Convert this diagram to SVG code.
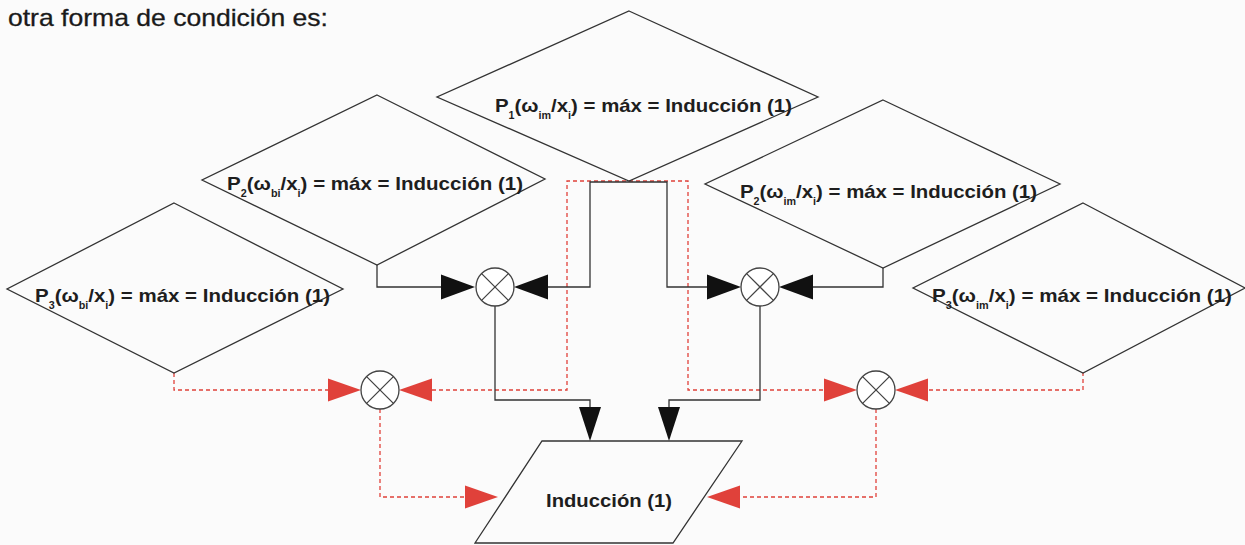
<svg xmlns="http://www.w3.org/2000/svg" xmlns:xlink="http://www.w3.org/1999/xlink" width="1245" height="545" viewBox="0 0 1245 545">
  <style>
    .shape { fill: none; stroke: #333; stroke-width: 1.3; }
    .lbl { font-family: "Liberation Sans", Arial, sans-serif; font-weight: bold; font-size: 19px; fill: #1e1e1e; }
    .sub { font-size: 10px; }
    .title { font-family: "Liberation Sans", Arial, sans-serif; font-size: 24px; fill: #1a1a1a; stroke: #1a1a1a; stroke-width: 0.3; }
    .wire { fill: none; stroke: #333; stroke-width: 1.3; }
    .dash { fill: none; stroke: #e0413a; stroke-width: 1.3; stroke-dasharray: 4 3; }
    .mult { fill: #fff; stroke: #444; stroke-width: 1.3; }
    .head { fill: #111; }
    .rhead { fill: #e0413a; }
  </style>
  <defs>
    <!-- arrowheads drawn with the tip at the origin, pointing along +x -->
    <path id="hw" d="M0,0 L-34,-12.5 L-34,12.5 Z"/>
    <path id="hn" d="M0,0 L-34,-11 L-34,11 Z"/>
    <path id="hr" d="M0,0 L-33,-11.5 L-33,11.5 Z"/>
    <!-- multiplier symbol -->
    <g id="mul">
      <circle r="19" class="mult"/>
      <path d="M-13.4,-13.4 L13.4,13.4 M-13.4,13.4 L13.4,-13.4" stroke="#444" stroke-width="1.3"/>
    </g>
  </defs>

  <rect width="1245" height="545" fill="#fbfbfb"/>

  <text class="title" x="8" y="26" textLength="320" lengthAdjust="spacingAndGlyphs">otra forma de condición es:</text>

  <!-- connectors -->
  <g id="connectors">
    <!-- red dashed paths -->
    <path class="dash" d="M174,373 V390 H328"/>
    <path class="dash" d="M432,390 H567 V181 H688 V390 H824"/>
    <path class="dash" d="M929,390 H1083 V373"/>
    <path class="dash" d="M380,409 V497 H465"/>
    <path class="dash" d="M876,409 V497 H740"/>
    <use xlink:href="#hr" class="rhead" transform="translate(361,390)"/>
    <use xlink:href="#hr" class="rhead" transform="translate(399,390) rotate(180)"/>
    <use xlink:href="#hr" class="rhead" transform="translate(857,390)"/>
    <use xlink:href="#hr" class="rhead" transform="translate(895,390) rotate(180)"/>
    <use xlink:href="#hr" class="rhead" transform="translate(498,497)"/>
    <use xlink:href="#hr" class="rhead" transform="translate(707,497) rotate(180)"/>

    <!-- black signal paths -->
    <path class="wire" d="M377,265 V287 H441"/>
    <path class="wire" d="M547,287 H590 V182 H667 V287 H707"/>
    <path class="wire" d="M883,268 V287 H813"/>
    <path class="wire" d="M495,306 V400 H590 V407"/>
    <path class="wire" d="M760,306 V400 H669 V407"/>
    <use xlink:href="#hw" class="head" transform="translate(475,287)"/>
    <use xlink:href="#hw" class="head" transform="translate(514,287) rotate(180)"/>
    <use xlink:href="#hw" class="head" transform="translate(741,287)"/>
    <use xlink:href="#hw" class="head" transform="translate(779,287) rotate(180)"/>
    <use xlink:href="#hn" class="head" transform="translate(590,441) rotate(90)"/>
    <use xlink:href="#hn" class="head" transform="translate(669,441) rotate(90)"/>
  </g>

  <!-- decision nodes -->
  <g id="p1-im">
    <polygon class="shape" points="629,11 818,97 629,181 437,97"/>
    <text class="lbl" x="495" y="112" textLength="297" lengthAdjust="spacingAndGlyphs">P<tspan class="sub" dy="7">1</tspan><tspan dy="-7">(ω</tspan><tspan class="sub" dy="7">im</tspan><tspan dy="-7">/x</tspan><tspan class="sub" dy="7">i</tspan><tspan dy="-7">) = máx = Inducción (1)</tspan></text>
  </g>
  <g id="p2-bi">
    <polygon class="shape" points="377,95 545,179 377,265 202,180"/>
    <text class="lbl" x="227" y="190" textLength="296" lengthAdjust="spacingAndGlyphs">P<tspan class="sub" dy="7">2</tspan><tspan dy="-7">(ω</tspan><tspan class="sub" dy="7">bi</tspan><tspan dy="-7">/x</tspan><tspan class="sub" dy="7">i</tspan><tspan dy="-7">) = máx = Inducción (1)</tspan></text>
  </g>
  <g id="p2-im">
    <polygon class="shape" points="883,100 1060,184 883,268 705,184"/>
    <text class="lbl" x="740" y="198" textLength="297" lengthAdjust="spacingAndGlyphs">P<tspan class="sub" dy="7">2</tspan><tspan dy="-7">(ω</tspan><tspan class="sub" dy="7">im</tspan><tspan dy="-7">/x</tspan><tspan class="sub" dy="7">i</tspan><tspan dy="-7">) = máx = Inducción (1)</tspan></text>
  </g>
  <g id="p3-bi">
    <polygon class="shape" points="174,203 343,289 174,373 7,289"/>
    <text class="lbl" x="35" y="302" textLength="295" lengthAdjust="spacingAndGlyphs">P<tspan class="sub" dy="7">3</tspan><tspan dy="-7">(ω</tspan><tspan class="sub" dy="7">bi</tspan><tspan dy="-7">/x</tspan><tspan class="sub" dy="7">i</tspan><tspan dy="-7">) = máx = Inducción (1)</tspan></text>
  </g>
  <g id="p3-im">
    <polygon class="shape" points="1083,203 1245,288 1083,373 913,288"/>
    <text class="lbl" x="932" y="302" textLength="300" lengthAdjust="spacingAndGlyphs">P<tspan class="sub" dy="7">3</tspan><tspan dy="-7">(ω</tspan><tspan class="sub" dy="7">im</tspan><tspan dy="-7">/x</tspan><tspan class="sub" dy="7">i</tspan><tspan dy="-7">) = máx = Inducción (1)</tspan></text>
  </g>

  <!-- multipliers -->
  <g id="mul-a"><use xlink:href="#mul" transform="translate(495,287)"/></g>
  <g id="mul-b"><use xlink:href="#mul" transform="translate(760,287)"/></g>
  <g id="mul-c"><use xlink:href="#mul" transform="translate(380,390)"/></g>
  <g id="mul-d"><use xlink:href="#mul" transform="translate(876,390)"/></g>

  <!-- output node -->
  <g id="induccion">
    <polygon class="shape" points="542,441 742,441 673,543 475,543"/>
    <text class="lbl" x="546" y="507" textLength="126" lengthAdjust="spacingAndGlyphs">Inducción (1)</text>
  </g>
</svg>
